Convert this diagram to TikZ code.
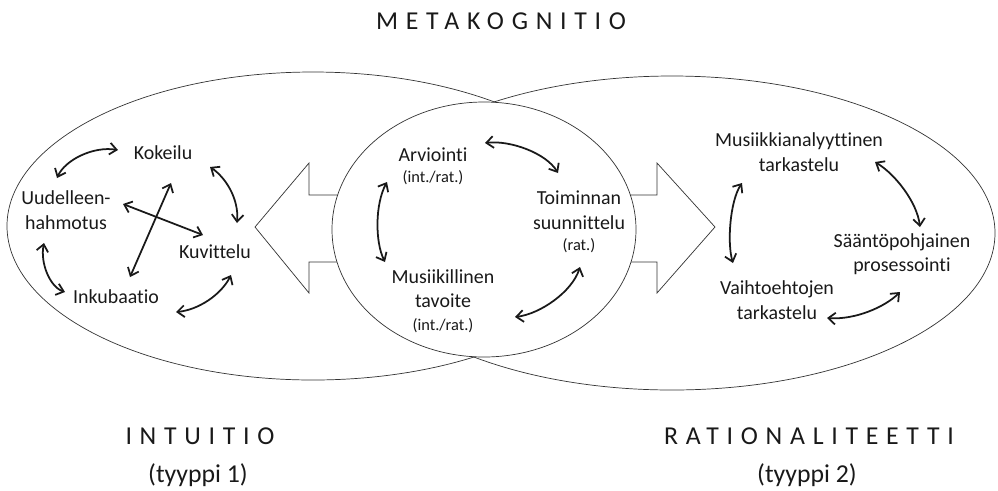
\documentclass[tikz,border=0pt]{standalone}
\usepackage{fontspec}
\setmainfont{Carlito}[Ligatures=NoCommon]
\usepackage{tikz}
\usetikzlibrary{arrows.meta}

\newcommand\pien[1]{{\fontsize{14}{17}\selectfont #1}}

\begin{document}
\begin{tikzpicture}[x=0.03cm,y=-0.03cm,
    txt/.style={inner sep=0pt,align=center,text=black!90,font=\fontsize{17}{21}\selectfont},
    heading/.style={inner sep=0pt,text=black!90,font=\fontsize{22}{26}\selectfont\addfontfeature{LetterSpace=30}},
    typ/.style={inner sep=0pt,text=black!90,font=\fontsize{22}{26}\selectfont},
    dbl/.style={<->,>={Straight Barb[length=6pt,width=10pt]},line width=1.5pt,black!90},
    ring/.style={line width=0.6pt,black!80}]
            \useasboundingbox (0,0) rectangle (998,490);
            \draw[ring] (313,226) ellipse [x radius=306, y radius=154];
            \draw[ring] (672,233) ellipse [x radius=323, y radius=157];
            \draw[ring,fill=white] (255,227) -- (309,163) -- (309,195) -- (657,195) -- (657,163) -- (715,227)
                -- (657,293) -- (657,262) -- (309,262) -- (309,293) -- cycle;
            \draw[ring,fill=white] (484,229.5) ellipse [x radius=152, y radius=127.5];

            \node[heading] (meta) at (501,21) {METAKOGNITIO};
            \node[heading] (intu) at (200,436) {INTUITIO};
            \node[typ] (typ1) at (198,475) {(tyyppi 1)};
            \node[heading] (rati) at (809,436) {RATIONALITEETTI};
            \node[typ] (typ2) at (807,475) {(tyyppi 2)};

            \node[txt] (kok) at (163,153) {Kokeilu};
            \node[txt] (uud) at (66,210) {Uudelleen-\\hahmotus};
            \node[txt] (kuv) at (215,252) {Kuvittelu};
            \node[txt] (ink) at (116,297) {Inkubaatio};

            \node[txt] (arv) at (433,166) {Arviointi\\[-3pt]\pien{(int./rat.)}};
            \node[txt] (toi) at (579,222) {Toiminnan\\suunnittelu\\[-3pt]\pien{(rat.)}};
            \node[txt] (mus) at (443,301) {Musiikillinen\\tavoite\\[-2pt]\pien{(int./rat.)}};

            \node[txt] (mta) at (799,152) {Musiikkianalyyttinen\\tarkastelu};
            \node[txt] (saa) at (902,254) {Sääntöpohjainen\\prosessointi};
            \node[txt] (vai) at (777,300) {Vaihtoehtojen\\tarkastelu};

            \draw[dbl] ([shift={(-45,-3)}]kok.center) .. controls +(-25,-4) and +(8,-18) .. ([shift={(-9,-32)}]uud.center);
            \draw[dbl] ([shift={(47,14)}]kok.center) .. controls +(15,10) and +(2,-25) .. ([shift={(22,-29)}]kuv.center);
            \draw[dbl] ([shift={(57,-6)}]uud.center) -- ([shift={(-12,-17)}]kuv.center);
            \draw[dbl] ([shift={(8,30)}]kok.center) -- ([shift={(14,-20)}]ink.center);
            \draw[dbl] ([shift={(-22,33)}]uud.center) .. controls +(-4,20) and +(-15,-5) .. ([shift={(-51,-5)}]ink.center);
            \draw[dbl] ([shift={(60,15)}]ink.center) .. controls +(22,-2) and +(-10,20) .. ([shift={(16,23)}]kuv.center);

            \draw[dbl] ([shift={(52,-23)}]arv.center) .. controls +(25,-3) and +(-12,-20) .. ([shift={(-21,-49)}]toi.center);
            \draw[dbl] ([shift={(-46,16)}]arv.center) .. controls +(-12,22) and +(-10,-20) .. ([shift={(-58,-39)}]mus.center);
            \draw[dbl] ([shift={(72,16)}]mus.center) .. controls +(25,-3) and +(-8,25) .. ([shift={(1,45)}]toi.center);

            \draw[dbl] ([shift={(-57,31)}]mta.center) .. controls +(-12,18) and +(-6,-20) .. ([shift={(-44,-37)}]vai.center);
            \draw[dbl] ([shift={(76,10)}]mta.center) .. controls +(20,12) and +(-3,-25) .. ([shift={(18,-27)}]saa.center);
            \draw[dbl] ([shift={(50,18)}]vai.center) .. controls +(28,2) and +(-15,15) .. ([shift={(-2,38)}]saa.center);
        \end{tikzpicture}
\end{document}
